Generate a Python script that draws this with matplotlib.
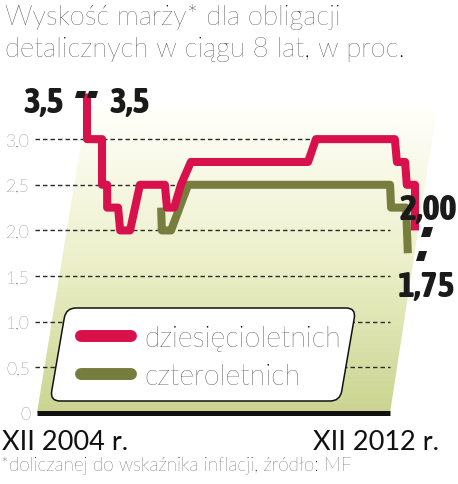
import matplotlib
matplotlib.use("Agg")
import matplotlib.pyplot as plt
import numpy as np
from matplotlib import transforms as mtransforms
from matplotlib.patches import Polygon, FancyBboxPatch
from matplotlib.lines import Line2D
from matplotlib import font_manager

# ---------------- data ----------------
# months since XII 2004 (0) to XII 2012 (96), margin in %
red_months = [0, 0, 4.4, 4.4, 5.9, 5.9, 9.1, 9.7, 12.6, 15.5, 22.8, 23.4, 25.5,
              27.5, 30.4, 64.7, 67.0, 90.1, 90.7, 93.1, 93.6, 96.0, 96.0]
red_values = [3.5, 3.0, 3.0, 2.5, 2.5, 2.25, 2.25, 2.0, 2.0, 2.5, 2.5, 2.25, 2.25,
              2.5, 2.75, 2.75, 3.0, 3.0, 2.75, 2.75, 2.5, 2.5, 2.0]
green_months = [21.7, 21.9, 24.6, 29.6, 88.7, 89.0, 93.4, 93.9]
green_values = [2.25, 2.0, 2.0, 2.5, 2.5, 2.25, 2.25, 1.75]

yticks = [0, 0.5, 1.0, 1.5, 2.0, 2.5, 3.0]
ytick_labels = ["0", "0,5", "1,0", "1,5", "2,0", "2,5", "3,0"]
series_names = ["dziesięcioletnich", "czteroletnich"]
title_lines = ["Wyskość marży* dla obligacji", "detalicznych w ciągu 8 lat, w proc."]
x_labels = ["XII 2004 r.", "XII 2012 r."]
footnote = "*doliczanej do wskaźnika inflacji, źródło: MF"
start_labels = ["3,5", "3,5"]
end_labels = ["2,00", "1,75"]

RED = "#d8104c"
GREEN = "#767d3e"

W, H = 458, 485
fig = plt.figure(figsize=(W / 100, H / 100), dpi=100)
fig.patch.set_facecolor("white")
pix = mtransforms.Affine2D().scale(1 / W, -1 / H).translate(0, 1) + fig.transFigure

LIGHT = "Lato"
COND = ["Asap Condensed", "DejaVu Sans"]

# axes: left 37px, right 437px, bottom 414px (0), top 94.5px (3.5)
ax = fig.add_axes([37 / W, (H - 414) / H, 400 / W, (414 - 94.5) / H])
ppm = 328 / 96.0
ax.set_xlim(-(87 - 37) / ppm, 96 + (437 - 415) / ppm)
ax.set_ylim(0, 3.5)
ax.patch.set_alpha(0)
for s in ax.spines.values():
    s.set_visible(False)
ax.set_xticks([])
ax.set_yticks(yticks)
ax.set_yticklabels(ytick_labels, fontfamily=LIGHT, fontweight="light",
                   fontsize=12.5, color="#222222")
ax.tick_params(axis="y", length=0, pad=5)

# gradient parallelogram background
top_y, bot_y = 108, 414
xl_b, xr_b, xl_t, xr_t = 37, 390, 87, 437
c_bot = np.array([0.79, 0.83, 0.56])
c_mid = np.array([0.925, 0.94, 0.79])
c_top = np.array([1.0, 1.0, 0.985])
n = 120
for i in range(n):
    y0 = bot_y - (bot_y - top_y) * i / n
    y1 = bot_y - (bot_y - top_y) * (i + 1) / n
    t = (i + 0.5) / n
    if t < 0.5:
        c = c_bot + (c_mid - c_bot) * (t / 0.5)
    else:
        c = c_mid + (c_top - c_mid) * ((t - 0.5) / 0.5)
    f0 = (bot_y - y0) / (bot_y - top_y)
    f1 = (bot_y - y1) / (bot_y - top_y)
    pts = [(xl_b + (xl_t - xl_b) * f0, y0), (xr_b + (xr_t - xr_b) * f0, y0),
           (xr_b + (xr_t - xr_b) * f1, y1 - 0.5), (xl_b + (xl_t - xl_b) * f1, y1 - 0.5)]
    fig.add_artist(Polygon(pts, closed=True, transform=pix, facecolor=c,
                           edgecolor="none", zorder=-1))

# dashed grid lines
gx0 = ax.get_xlim()[0] - 2 / ppm
gx1 = 88.7
for yv in yticks[1:]:
    ax.plot([gx0, gx1], [yv, yv], color="#2a2a2a", lw=1.0, dashes=(3.2, 2.2),
            clip_on=False, zorder=1)
ax.plot([ax.get_xlim()[0], gx1], [0, 0], color="#111111", lw=3.6,
        solid_capstyle="butt", clip_on=False, zorder=2)

# data lines
ax.plot(green_months, green_values, color=GREEN, lw=5.8, solid_joinstyle="round",
        solid_capstyle="butt", clip_on=False, zorder=3)
ax.plot(red_months, red_values, color=RED, lw=5.8, solid_joinstyle="round",
        solid_capstyle="butt", clip_on=False, zorder=4)

# legend box (skewed rounded box)
k = 16 / 93.0
skew = mtransforms.Affine2D(np.array([[1, -k, k * 402], [0, 1, 0], [0, 0, 1]]))
box = FancyBboxPatch((50, 309), 290, 93, boxstyle="round,pad=0,rounding_size=10",
                     facecolor="white", edgecolor="#111111",
                     lw=1.1, zorder=5, clip_on=False)
ax.add_patch(box)
box.set_transform(skew + pix)
handles = [Line2D([], [], color=RED, lw=8.6, solid_capstyle="round"),
           Line2D([], [], color=GREEN, lw=8.6, solid_capstyle="round")]
leg = ax.legend(handles, series_names, loc="upper left",
                bbox_to_anchor=(81 / W, 1 - 326 / H), bbox_transform=fig.transFigure,
                frameon=False, handlelength=1.75, handletextpad=0.45,
                labelspacing=0.42, borderpad=0, borderaxespad=0,
                prop=font_manager.FontProperties(family=LIGHT, weight="light", size=20.6))
leg.set_zorder(6)
for t in leg.get_texts():
    t.set_color("#000000")

# title, axis labels, footnote
fig.text(5, 25, title_lines[0], transform=pix, fontfamily=LIGHT, fontweight="light",
         fontsize=19.8, color="#000000", va="baseline")
fig.text(5, 57, title_lines[1], transform=pix, fontfamily=LIGHT, fontweight="light",
         fontsize=19.8, color="#000000", va="baseline")
fig.text(2, 450, x_labels[0], transform=pix, fontfamily=LIGHT, fontsize=19.5,
         color="#111111", va="baseline")
fig.text(313, 450, x_labels[1], transform=pix, fontfamily=LIGHT, fontsize=19.5,
         color="#111111", va="baseline")
fig.text(1, 471, footnote, transform=pix, fontfamily=LIGHT, fontweight="light",
         fontsize=13.6, color="#000000", va="baseline")

# value annotations (condensed bold)
fig.text(24, 113, start_labels[0], transform=pix, fontfamily=COND, fontweight=800,
         fontsize=26, color="#1a1a1a", va="baseline")
fig.text(109, 113, start_labels[1], transform=pix, fontfamily=COND, fontweight=800,
         fontsize=26, color="#1a1a1a", va="baseline")
fig.text(400, 220, end_labels[0], transform=pix, fontfamily=COND, fontweight=800,
         fontsize=26, color="#1a1a1a", va="baseline", zorder=7)
fig.text(398, 297, end_labels[1], transform=pix, fontfamily=COND, fontweight=800,
         fontsize=26, color="#1a1a1a", va="baseline", zorder=7)

# leader dashes
def quad(x0, y0, x1, y1, dx):
    return [(x0, y0), (x1, y0), (x1 - dx, y1), (x0 - dx, y1)]

for q in [quad(77, 92, 86, 99, 2), quad(89, 92, 98, 99, 2),
          quad(424, 228, 433, 238, 3), quad(419, 252, 427, 262, 3)]:
    fig.add_artist(Polygon(q, closed=True, transform=pix, facecolor="#1a1a1a",
                           edgecolor="none", zorder=7))

fig.savefig("out.png", dpi=100)
